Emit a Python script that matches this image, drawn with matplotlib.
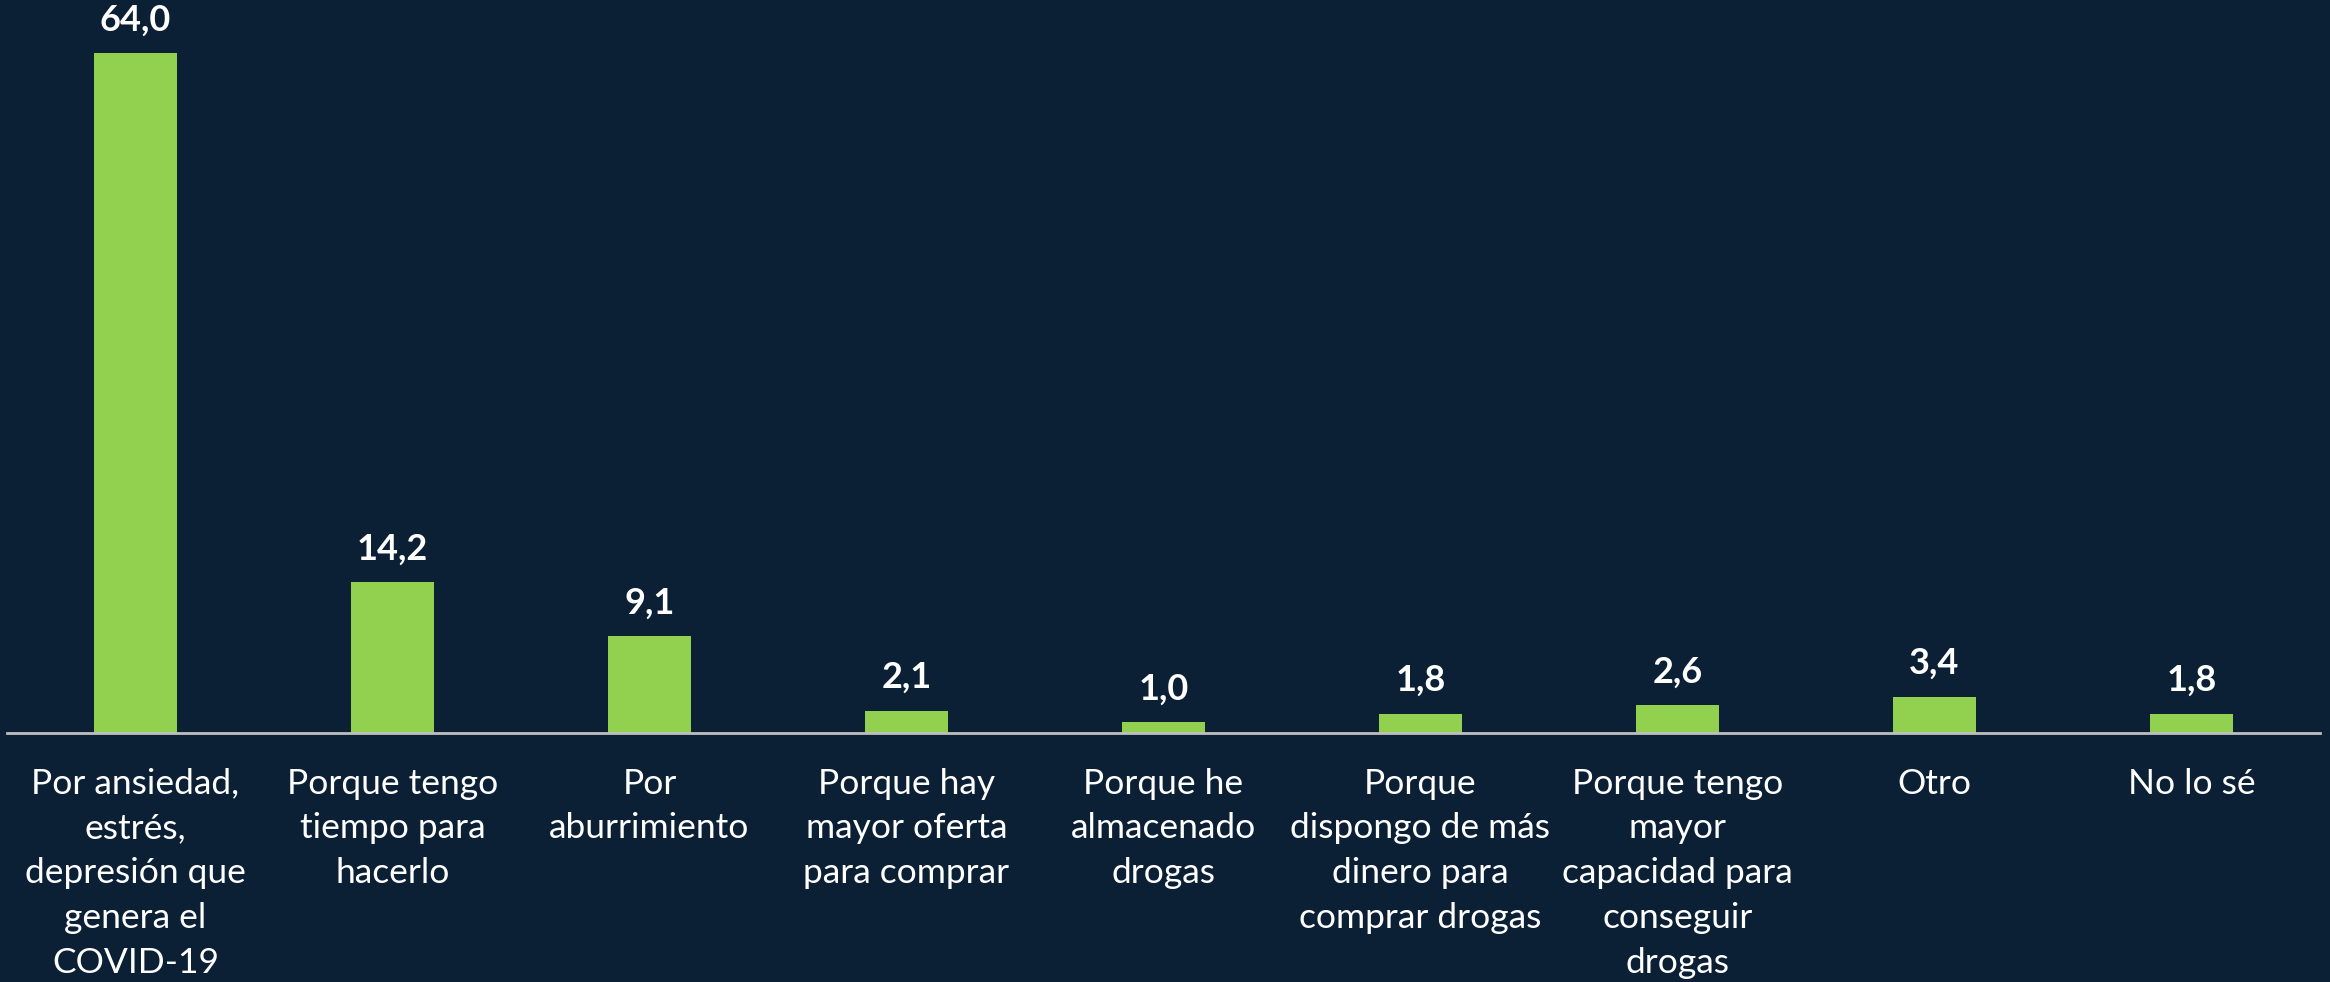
import matplotlib
matplotlib.use("Agg")
from matplotlib import pyplot as plt

categories = [
    "Por ansiedad,\nestrés,\ndepresión que\ngenera el\nCOVID-19",
    "Porque tengo\ntiempo para\nhacerlo",
    "Por\naburrimiento",
    "Porque hay\nmayor oferta\npara comprar",
    "Porque he\nalmacenado\ndrogas",
    "Porque\ndispongo de más\ndinero para\ncomprar drogas",
    "Porque tengo\nmayor\ncapacidad para\nconseguir\ndrogas",
    "Otro",
    "No lo sé",
]
values = [64.0, 14.2, 9.1, 2.1, 1.0, 1.8, 2.6, 3.4, 1.8]
value_labels = ["64,0", "14,2", "9,1", "2,1", "1,0", "1,8", "2,6", "3,4", "1,8"]

bg = "#0b2035"
plt.rcParams['font.family'] = ['Lato', 'DejaVu Sans']

fig = plt.figure(figsize=(23.3, 9.82), dpi=100, facecolor=bg)
ax = fig.add_axes([0.003, 0.2536, 0.9927, 0.7464])
ax.set_facecolor(bg)

x = list(range(len(values)))
bars = ax.bar(x, values, width=0.32, color="#92d050")

for xi, v, lab in zip(x, values, value_labels):
    ax.annotate(lab, (xi, v), xytext=(0, 12), textcoords="offset points",
                ha="center", va="bottom", color="white", fontsize=26,
                fontweight="bold", annotation_clip=False)

ax.set_xlim(-0.5, len(values) - 0.5)
ax.set_ylim(0, 733 / 10.625)
ax.set_xticks(x)
ax.set_xticklabels(categories, color="white", fontsize=25.5, linespacing=1.49)
ax.tick_params(axis="x", length=0, pad=25)
ax.set_yticks([])
for s in ["top", "right", "left"]:
    ax.spines[s].set_visible(False)
ax.spines["bottom"].set_color("#bfbfbf")
ax.spines["bottom"].set_linewidth(2)

fig.savefig("out.png", dpi=100, facecolor=bg)
